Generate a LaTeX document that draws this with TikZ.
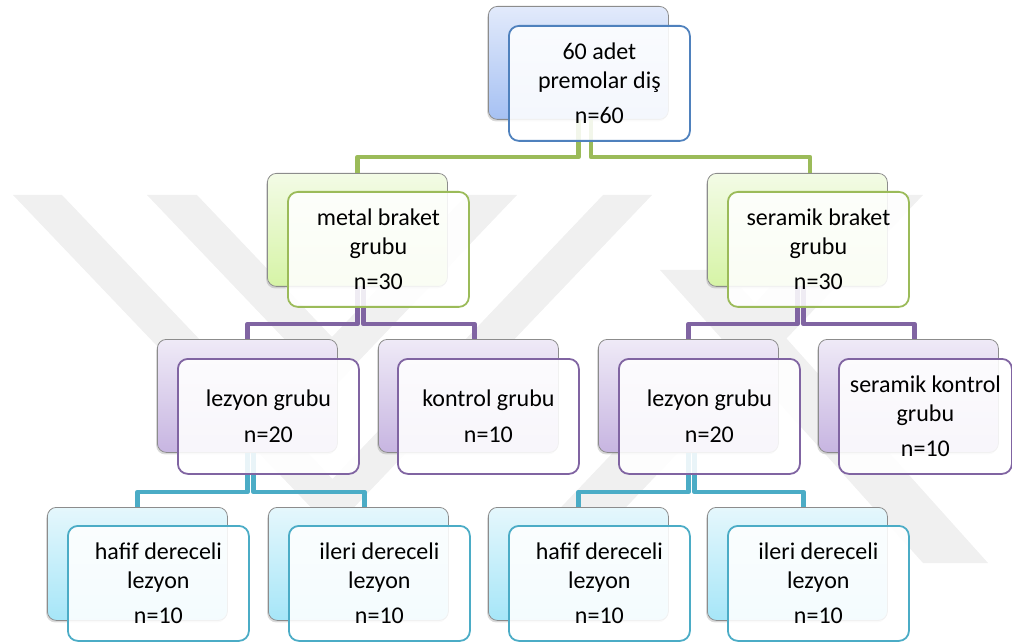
\documentclass[tikz,border=0pt]{standalone}
\usepackage{fontspec}
\setmainfont{Carlito}
\usetikzlibrary{positioning,shadows}

\definecolor{blueline}{HTML}{4F81BD}
\definecolor{bluetop}{HTML}{E2EAFB}
\definecolor{bluebot}{HTML}{A6C1F3}
\definecolor{greenline}{HTML}{9BBB59}
\definecolor{greentop}{HTML}{F3FBE6}
\definecolor{greenbot}{HTML}{D6F4A6}
\definecolor{purpleline}{HTML}{8064A2}
\definecolor{purpletop}{HTML}{EFEAF7}
\definecolor{purplebot}{HTML}{C7B5E1}
\definecolor{cyanline}{HTML}{4BACC6}
\definecolor{cyantop}{HTML}{E5F7FC}
\definecolor{cyanbot}{HTML}{A6E6F8}

\begin{document}
\begin{tikzpicture}[x=1pt, y=-1pt, line join=round,
    backbox/.style={draw=black!45, line width=0.8pt, rounded corners=9pt,
      minimum width=180pt, minimum height=113pt, anchor=north west,
      drop shadow={shadow xshift=-1.2pt, shadow yshift=-2pt, opacity=0.3}},
    frontbox/.style={draw=#1, line width=1.8pt, rounded corners=10pt,
      fill=white, fill opacity=0.88, text opacity=1,
      minimum width=181pt, minimum height=115pt, align=center,
      font=\fontsize{24}{28.5}\selectfont},
    conn/.style={draw=#1, line width=4.5pt},
    wm/.style={fill=black!6}]
  \useasboundingbox (0,0) rectangle (1012,644);

  % watermark
  \fill[wm] (13,195) -- (62,195) -- (332.5,479) -- (603,195) -- (652,195) -- (332.5,530) -- cycle;
  \fill[wm] (147,195) -- (197,195) -- (332,337) -- (467,195) -- (517,195) -- (332,389) -- cycle;
  \fill[wm] (858,195) -- (923,195) -- (573,563) -- (508,563) -- cycle;
  \fill[wm] (660,270) -- (725,270) -- (988,563) -- (923,563) -- cycle;

  % back boxes
  \node[backbox, top color=bluetop, bottom color=bluebot] (top-b) at (488,6) {};
  \node[backbox, top color=greentop, bottom color=greenbot] (metal-b) at (267,173) {};
  \node[backbox, top color=greentop, bottom color=greenbot] (seramik-b) at (707,173) {};
  \node[backbox, top color=purpletop, bottom color=purplebot] (lez1-b) at (157,339) {};
  \node[backbox, top color=purpletop, bottom color=purplebot] (kon1-b) at (378,339) {};
  \node[backbox, top color=purpletop, bottom color=purplebot] (lez2-b) at (598,339) {};
  \node[backbox, top color=purpletop, bottom color=purplebot] (kon2-b) at (818,339) {};
  \node[backbox, top color=cyantop, bottom color=cyanbot] (haf1-b) at (47,507) {};
  \node[backbox, top color=cyantop, bottom color=cyanbot] (ile1-b) at (268,507) {};
  \node[backbox, top color=cyantop, bottom color=cyanbot] (haf2-b) at (488,507) {};
  \node[backbox, top color=cyantop, bottom color=cyanbot] (ile2-b) at (707,507) {};

  % connectors
  \draw[conn=greenline] (top-b.south) |- ([yshift=16pt]metal-b.north) -- (metal-b.north);
  \draw[conn=greenline] ([xshift=12.5pt]top-b.south) |- ([shift={(12.5pt,16pt)}]seramik-b.north) -- ([xshift=12.5pt]seramik-b.north);
  \draw[conn=purpleline] (metal-b.south) |- ([yshift=15pt]lez1-b.north) -- (lez1-b.north);
  \draw[conn=purpleline] ([xshift=6pt]metal-b.south) |- ([shift={(6pt,15pt)}]kon1-b.north) -- ([xshift=6pt]kon1-b.north);
  \draw[conn=purpleline] (seramik-b.south) |- ([yshift=15pt]lez2-b.north) -- (lez2-b.north);
  \draw[conn=purpleline] ([xshift=6pt]seramik-b.south) |- ([shift={(6pt,15pt)}]kon2-b.north) -- ([xshift=6pt]kon2-b.north);
  \draw[conn=cyanline] (lez1-b.south) |- ([yshift=15pt]haf1-b.north) -- (haf1-b.north);
  \draw[conn=cyanline] ([xshift=6pt]lez1-b.south) |- ([shift={(6pt,15pt)}]ile1-b.north) -- ([xshift=6pt]ile1-b.north);
  \draw[conn=cyanline] (lez2-b.south) |- ([yshift=15pt]haf2-b.north) -- (haf2-b.north);
  \draw[conn=cyanline] ([xshift=6pt]lez2-b.south) |- ([shift={(6pt,15pt)}]ile2-b.north) -- ([xshift=6pt]ile2-b.north);

  % front boxes
  \node[frontbox=blueline, below right=19pt and 20pt of top-b.north west] (top) {60 adet\\premolar diş\\[6.5pt]n=60};
  \node[frontbox=greenline, below right=18pt and 20pt of metal-b.north west] (metal) {metal braket\\grubu\\[6.5pt]n=30};
  \node[frontbox=greenline, below right=18pt and 20pt of seramik-b.north west] (seramik) {seramik braket\\grubu\\[6.5pt]n=30};
  \node[frontbox=purpleline, below right=19pt and 20pt of lez1-b.north west] (lez1) {lezyon grubu\\[8pt]n=20};
  \node[frontbox=purpleline, below right=19pt and 19pt of kon1-b.north west] (kon1) {kontrol grubu\\[8pt]n=10};
  \node[frontbox=purpleline, below right=19pt and 20pt of lez2-b.north west] (lez2) {lezyon grubu\\[8pt]n=20};
  \node[frontbox=purpleline, below right=19pt and 20pt of kon2-b.north west, minimum width=173pt, inner xsep=1pt] (kon2) {seramik kontrol\\grubu\\[6.5pt]n=10};
  \node[frontbox=cyanline, below right=18pt and 20pt of haf1-b.north west] (haf1) {hafif dereceli\\lezyon\\[6.5pt]n=10};
  \node[frontbox=cyanline, below right=18pt and 20pt of ile1-b.north west] (ile1) {ileri dereceli\\lezyon\\[6.5pt]n=10};
  \node[frontbox=cyanline, below right=18pt and 20pt of haf2-b.north west] (haf2) {hafif dereceli\\lezyon\\[6.5pt]n=10};
  \node[frontbox=cyanline, below right=18pt and 20pt of ile2-b.north west] (ile2) {ileri dereceli\\lezyon\\[6.5pt]n=10};
\end{tikzpicture}
\end{document}
